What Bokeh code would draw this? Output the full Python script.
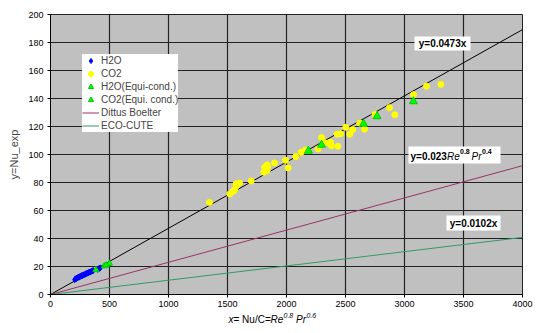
from bokeh.plotting import figure
from bokeh.layouts import column
from bokeh.models import Range1d, FixedTicker, Label, BoxAnnotation, Legend, LegendItem
from bokeh.embed import file_html
from bokeh.resources import INLINE

# ---- data ----
h2o_x = [205, 212, 220, 228, 235, 242, 250, 258, 265, 272, 280, 288, 295, 302,
         310, 318, 325, 332, 340, 348, 355, 362, 400, 408, 415, 422]
h2o_y = [10.6, 11.2, 11.4, 11.9, 12.3, 12.4, 12.9, 13.1, 13.5, 13.6, 14.0, 14.3,
         14.5, 14.9, 15.2, 15.4, 15.8, 16.0, 16.2, 16.6, 16.9, 17.1, 18.0, 18.4,
         18.7, 19.0]

co2_x = [1347, 1520, 1548, 1559, 1573, 1573, 1602, 1701, 1808, 1814, 1822, 1836,
         1836, 1842, 1898, 1992, 2014, 2079, 2124, 2161, 2268, 2297, 2331, 2373,
         2381, 2435, 2429, 2458, 2503, 2537, 2562, 2621, 2661, 2751, 2873, 2918,
         3076, 3186, 3308]
co2_y = [65.8, 71.8, 73.7, 74.7, 77.3, 79.0, 79.7, 81.1, 87.3, 90.9, 89.0, 92.6,
         88.5, 91.5, 94.0, 95.9, 90.4, 98.5, 101.6, 103.3, 104.0, 112.1, 108.3,
         108.8, 106.2, 105.9, 114.5, 114.8, 119.5, 114.5, 117.9, 122.4, 118.1,
         128.6, 133.4, 128.4, 142.7, 148.8, 150.1]

h2o_eq_x = [385, 455, 472, 500]
h2o_eq_y = [17.6, 20.3, 21.0, 22.2]

co2_eq_x = [2186, 2297, 2653, 2768, 3076]
co2_eq_y = [102.6, 106.9, 121.9, 127.2, 137.9]

line_x = [0, 4000]
slope_fit = 0.0473
slope_db = 0.023
slope_eco = 0.0102

x_ticks = [0, 500, 1000, 1500, 2000, 2500, 3000, 3500, 4000]
y_ticks = [0, 20, 40, 60, 80, 100, 120, 140, 160, 180, 200]

FONT = "Liberation Sans"

W, H = 539, 333
MAIN_H = 311
# frame geometry in pixels (for placing annotations)
FL, FR, FT, FB = 50, 522, 14, 294
def dx(px):
    return (px - FL) / (FR - FL) * 4000
def dy(py):
    return (FB - py) / (FB - FT) * 200

p = figure(width=W, height=MAIN_H, output_backend="svg", toolbar_location=None,
           x_range=Range1d(0, 4000), y_range=Range1d(0, 200),
           min_border_left=FL, min_border_right=W - FR,
           min_border_top=FT, min_border_bottom=MAIN_H - FB)
p.title.visible = False
p.background_fill_color = "#C0C0C0"
p.border_fill_color = "white"
p.outline_line_color = "#222222"

p.xaxis.ticker = FixedTicker(ticks=x_ticks)
p.yaxis.ticker = FixedTicker(ticks=y_ticks)
for ax in (p.xaxis, p.yaxis):
    ax.axis_line_color = "black"
    ax.major_tick_in = 0
    ax.major_tick_out = 3
    ax.major_tick_line_color = "black"
    ax.minor_tick_line_color = None
    ax.major_label_text_font = FONT
    ax.major_label_text_font_size = "9px"
    ax.major_label_text_color = "black"
    ax.major_label_standoff = 4
p.xaxis.major_label_standoff = 3
p.yaxis.axis_label = "y=Nu_exp"
p.yaxis.axis_label_text_font = FONT
p.yaxis.axis_label_text_font_size = "11px"
p.yaxis.axis_label_text_font_style = "normal"
p.yaxis.axis_label_standoff = 5

for g in (p.xgrid, p.ygrid):
    g.grid_line_color = "#222222"
    g.grid_line_width = 1.2

# lines
p.line(line_x, [slope_fit * v for v in line_x], line_color="black", line_width=1)
r_db = p.line(line_x, [slope_db * v for v in line_x], line_color="#993366", line_width=1)
r_eco = p.line(line_x, [slope_eco * v for v in line_x], line_color="#339966", line_width=1)

# points
r_h2o = p.scatter(h2o_x, h2o_y, marker="diamond", size=6, fill_color="#0000FF",
                  line_color="#0000FF")
r_co2 = p.scatter(co2_x, co2_y, marker="circle", size=6, fill_color="#FFFF00",
                  line_color="#FFFF00")
r_h2oeq = p.scatter(h2o_eq_x, h2o_eq_y, marker="triangle", size=6, fill_color="#00FF00",
                    line_color="#00CC00")
r_co2eq = p.scatter(co2_eq_x, co2_eq_y, marker="triangle", size=8, fill_color="#00FF00",
                    line_color="#00CC00")

# label boxes
p.add_layout(BoxAnnotation(left=dx(414), right=dx(470), top=dy(36), bottom=dy(50),
                           fill_color="white", fill_alpha=1, line_color=None))
p.add_layout(BoxAnnotation(left=dx(408), right=dx(500), top=dy(146), bottom=dy(163),
                           fill_color="white", fill_alpha=1, line_color=None))
p.add_layout(BoxAnnotation(left=dx(446), right=dx(500), top=dy(215), bottom=dy(230),
                           fill_color="white", fill_alpha=1, line_color=None))

def lab(fig, x, y, text, size="10px", style="bold", align="left"):
    fig.add_layout(Label(x=x, y=y, text=text, text_font=FONT,
                         text_font_size=size, text_font_style=style,
                         text_align=align, text_baseline="middle", text_color="black"))

lab(p, dx(442), dy(43), "y=0.0473x", align="center")
lab(p, dx(473), dy(222.5), "y=0.0102x", align="center")
# y=0.023 Re^0.8 Pr^0.4
lab(p, dx(410), dy(155.5), "y=0.023")
lab(p, dx(446.5), dy(155.5), "Re", style="italic")
lab(p, dx(459.5), dy(151), "0.8", size="7px", style="bold")
lab(p, dx(471), dy(155.5), "Pr", style="italic")
lab(p, dx(481.5), dy(151), "0.4", size="7px", style="bold")

legend = Legend(items=[
    LegendItem(label="H2O", renderers=[r_h2o]),
    LegendItem(label="CO2", renderers=[r_co2]),
    LegendItem(label="H2O(Equi-cond.)", renderers=[r_h2oeq]),
    LegendItem(label="CO2(Equi. cond.)", renderers=[r_co2eq]),
    LegendItem(label="Dittus Boelter", renderers=[r_db]),
    LegendItem(label="ECO-CUTE", renderers=[r_eco]),
], location=(32, FB - 132))
legend.label_text_font = FONT
legend.label_text_font_size = "10px"
legend.label_height = 13
legend.glyph_height = 13
legend.glyph_width = 17
legend.label_standoff = 2
legend.spacing = 0
legend.padding = 2
legend.margin = 0
legend.border_line_color = None
legend.background_fill_color = "white"
legend.background_fill_alpha = 1
p.add_layout(legend)

# x axis title strip: x=Nu/C=Re^0.8 Pr^0.6 (frame aligned with the main plot)
TH = H - MAIN_H
t = figure(width=W, height=TH, output_backend="svg", toolbar_location=None,
           x_range=Range1d(0, 4000), y_range=Range1d(TH, 0),
           x_axis_type=None, y_axis_type=None,
           min_border_left=FL, min_border_right=W - FR,
           min_border_top=0, min_border_bottom=0)
t.title.visible = False
t.grid.visible = False
t.outline_line_color = None
t.background_fill_color = "white"
t.border_fill_color = "white"
ty = 319 - MAIN_H
lab(t, dx(228), ty, "x", style="italic")
lab(t, dx(233), ty, "= Nu/C=", style="normal")
lab(t, dx(270), ty, "Re", style="italic")
lab(t, dx(283), ty - 4, "0.8", size="7px", style="italic")
lab(t, dx(295.5), ty, "Pr", style="italic")
lab(t, dx(306), ty - 4, "0.6", size="7px", style="italic")

layout = column(p, t, spacing=0)
open("out.html", "w").write(file_html(layout, INLINE))
